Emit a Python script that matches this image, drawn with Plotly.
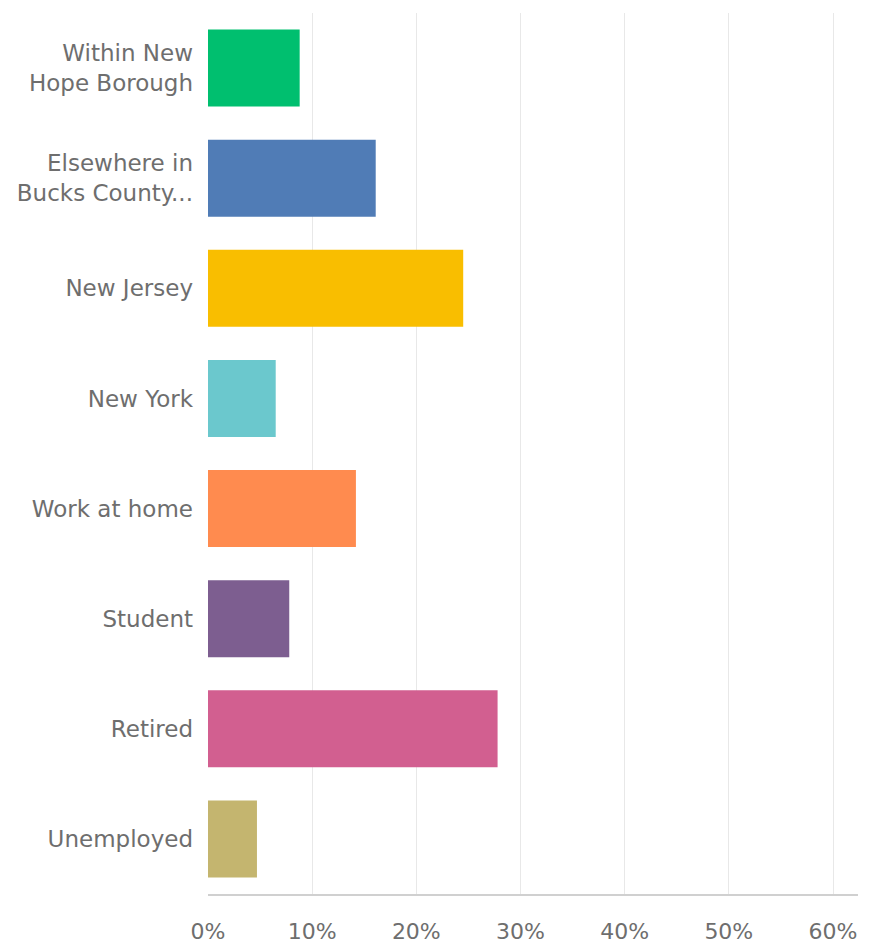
import plotly.graph_objects as go

# Where respondents work (share of responses)
categories = [
    "Within New<br>Hope Borough",
    "Elsewhere in<br>Bucks County...",
    "New Jersey",
    "New York",
    "Work at home",
    "Student",
    "Retired",
    "Unemployed",
]
shares = [0.088, 0.161, 0.245, 0.065, 0.142, 0.078, 0.278, 0.047]
bar_colors = ["#00BF6F", "#507CB6", "#F9BE00", "#6BC8CD",
              "#FF8B4F", "#7D5E90", "#D25F90", "#C4B56F"]
tick_values = [0, 0.1, 0.2, 0.3, 0.4, 0.5, 0.6]
tick_labels = ["0%", "10%", "20%", "30%", "40%", "50%", "60%"]

fig = go.Figure(
    go.Bar(
        x=shares,
        y=categories,
        orientation="h",
        marker=dict(color=bar_colors, line=dict(width=0)),
        width=0.7,
        hoverinfo="skip",
    )
)

font_family = "DejaVu Sans, Verdana, sans-serif"
text_color = "#6E6E6E"

fig.update_layout(
    width=878,
    height=949,
    margin=dict(l=208, r=20, t=13, b=55),
    paper_bgcolor="white",
    plot_bgcolor="white",
    showlegend=False,
    font=dict(family=font_family, size=23, color=text_color),
    xaxis=dict(
        range=[0, 0.624],
        tickvals=tick_values,
        ticktext=tick_labels,
        showgrid=True,
        gridcolor="#E8E8E8",
        gridwidth=1,
        zeroline=False,
        showline=True,
        linecolor="#D0D0D0",
        linewidth=1.5,
        ticks="",
        ticklabelstandoff=17,
        automargin=False,
        tickfont=dict(size=22, color=text_color),
        fixedrange=True,
    ),
    yaxis=dict(
        categoryorder="array",
        categoryarray=categories[::-1],
        autorange=True,
        showgrid=False,
        zeroline=False,
        showline=False,
        ticks="",
        ticklabelstandoff=14,
        automargin=False,
        tickfont=dict(size=23, color=text_color),
        fixedrange=True,
    ),
)

fig.write_html("out.html")
